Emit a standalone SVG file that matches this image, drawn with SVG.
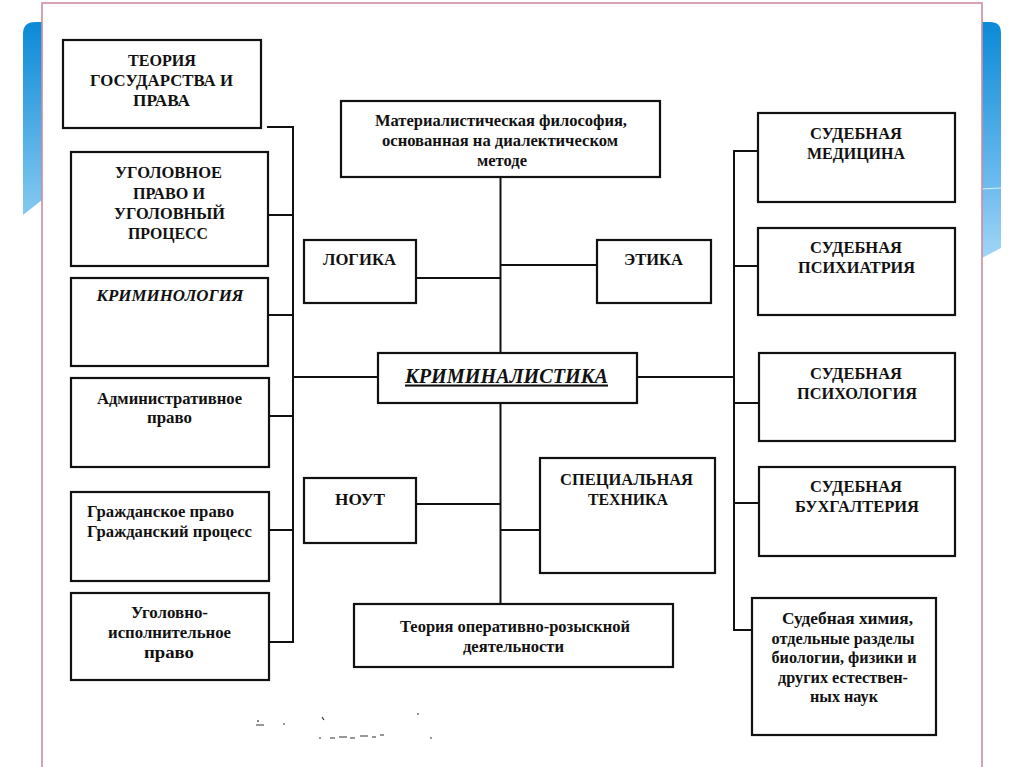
<svg xmlns="http://www.w3.org/2000/svg" width="1024" height="767" viewBox="0 0 1024 767">
<defs>
<linearGradient id="gl" x1="0" y1="0" x2="0" y2="1">
<stop offset="0" stop-color="#0b8ad6"/>
<stop offset="1" stop-color="#86c9f1"/>
</linearGradient>
<linearGradient id="gr" x1="0" y1="0" x2="0" y2="1">
<stop offset="0" stop-color="#0b8ad6"/>
<stop offset="0.7" stop-color="#6fbcef"/>
<stop offset="1" stop-color="#a2d6f5"/>
</linearGradient>
</defs>
<style>
.box{fill:#fff;stroke:#111;stroke-width:2.2}
.c{fill:none;stroke:#111;stroke-width:2}
text{font-family:"Liberation Serif","Times New Roman",serif;font-weight:bold;fill:#111;text-anchor:middle}
.cap{font-size:17px}
.low{font-size:16px}
.it{font-style:italic}
.lft{text-anchor:start}
</style>
<rect x="0" y="0" width="1024" height="767" fill="#fff"/>
<path d="M23,34 Q23,22 35,22 L42,22 L42,200 L23,215 Z" fill="url(#gl)"/>
<path d="M982,22 L990,22 Q1001,22 1001,33 L1001,248 L982,258 Z" fill="url(#gr)"/>
<line x1="982" y1="189" x2="1001" y2="188" stroke="#d8eefb" stroke-width="1"/>
<rect x="42" y="3" width="940" height="770" fill="#fff" stroke="#d08aa2" stroke-width="1.6"/>

<g id="connectors">
<path class="c" d="M267,127 H293 V642 H269"/>
<path class="c" d="M268,215 H293"/>
<path class="c" d="M268,315 H293"/>
<path class="c" d="M269,416 H293"/>
<path class="c" d="M269,530 H293"/>
<path class="c" d="M293,377 H378"/>
<path class="c" d="M500.5,177 V353"/>
<path class="c" d="M500.5,403 V604"/>
<path class="c" d="M416,278 H500.5"/>
<path class="c" d="M500.5,265 H597"/>
<path class="c" d="M416,504 H500.5"/>
<path class="c" d="M500.5,530 H540"/>
<path class="c" d="M637,377 H734"/>
<path class="c" d="M758,151 H734 V630 H752"/>
<path class="c" d="M734,266 H758"/>
<path class="c" d="M734,403 H759"/>
<path class="c" d="M734,503 H759"/>
</g>

<g id="n-teoriya-gos">
<rect class="box" x="63" y="40" width="198" height="88"/>
<text class="cap" x="162" y="65.5" textLength="68" lengthAdjust="spacingAndGlyphs">ТЕОРИЯ</text>
<text class="cap" x="161.5" y="85.5" textLength="143" lengthAdjust="spacingAndGlyphs">ГОСУДАРСТВА И</text>
<text class="cap" x="161.5" y="105.5" textLength="57" lengthAdjust="spacingAndGlyphs">ПРАВА</text>
</g>
<g id="n-ugol-pravo">
<rect class="box" x="71" y="152" width="197" height="114"/>
<text class="cap" x="168.5" y="177.5" textLength="107" lengthAdjust="spacingAndGlyphs">УГОЛОВНОЕ</text>
<text class="cap" x="169" y="198.5" textLength="72" lengthAdjust="spacingAndGlyphs">ПРАВО И</text>
<text class="cap" x="169.5" y="218.5" textLength="111" lengthAdjust="spacingAndGlyphs">УГОЛОВНЫЙ</text>
<text class="cap" x="168" y="238.5" textLength="80" lengthAdjust="spacingAndGlyphs">ПРОЦЕСС</text>
</g>
<g id="n-kriminologiya">
<rect class="box" x="71" y="278" width="197" height="88"/>
<text class="cap it" x="170" y="300.5" textLength="147" lengthAdjust="spacingAndGlyphs">КРИМИНОЛОГИЯ</text>
</g>
<g id="n-admin">
<rect class="box" x="71" y="378" width="198" height="89"/>
<text class="low" x="169.5" y="404" textLength="145" lengthAdjust="spacingAndGlyphs">Административное</text>
<text class="low" x="169.5" y="423" textLength="45" lengthAdjust="spacingAndGlyphs">право</text>
</g>
<g id="n-grazhd">
<rect class="box" x="71" y="492" width="198" height="89"/>
<text class="low lft" x="87" y="517" textLength="147" lengthAdjust="spacingAndGlyphs">Гражданское право</text>
<text class="low lft" x="87" y="537" textLength="165" lengthAdjust="spacingAndGlyphs">Гражданский процесс</text>
</g>
<g id="n-ugol-isp">
<rect class="box" x="71" y="593" width="198" height="87"/>
<text class="low" x="169.5" y="618" textLength="77" lengthAdjust="spacingAndGlyphs">Уголовно-</text>
<text class="low" x="169.5" y="638" textLength="123" lengthAdjust="spacingAndGlyphs">исполнительное</text>
<text class="low" x="169" y="658" textLength="50" lengthAdjust="spacingAndGlyphs">право</text>
</g>

<g id="n-filosofiya">
<rect class="box" x="341" y="101" width="319" height="76"/>
<text class="low" x="501" y="126" textLength="252" lengthAdjust="spacingAndGlyphs">Материалистическая философия,</text>
<text class="low" x="500" y="146" textLength="236" lengthAdjust="spacingAndGlyphs">основанная на диалектическом</text>
<text class="low" x="502" y="166" textLength="50" lengthAdjust="spacingAndGlyphs">методе</text>
</g>
<g id="n-logika">
<rect class="box" x="304" y="240" width="112" height="63"/>
<text class="cap" x="359.5" y="265" textLength="73" lengthAdjust="spacingAndGlyphs">ЛОГИКА</text>
</g>
<g id="n-etika">
<rect class="box" x="597" y="240" width="114" height="63"/>
<text class="cap" x="653.5" y="265" textLength="59" lengthAdjust="spacingAndGlyphs">ЭТИКА</text>
</g>
<g id="n-kriminalistika">
<rect class="box" x="378" y="353" width="259" height="50"/>
<text class="it" x="506.5" y="382.5" font-size="21" textLength="203" lengthAdjust="spacingAndGlyphs" text-decoration="underline">КРИМИНАЛИСТИКА</text>
</g>
<g id="n-nout">
<rect class="box" x="304" y="478" width="112" height="65"/>
<text class="cap" x="360" y="505" textLength="50" lengthAdjust="spacingAndGlyphs">НОУТ</text>
</g>
<g id="n-spec-tehnika">
<rect class="box" x="540" y="458" width="175" height="115"/>
<text class="cap" x="626.5" y="485" textLength="133" lengthAdjust="spacingAndGlyphs">СПЕЦИАЛЬНАЯ</text>
<text class="cap" x="628" y="505" textLength="80" lengthAdjust="spacingAndGlyphs">ТЕХНИКА</text>
</g>
<g id="n-teoriya-ord">
<rect class="box" x="354" y="604" width="319" height="63"/>
<text class="low" x="515" y="632" textLength="230" lengthAdjust="spacingAndGlyphs">Теория оперативно-розыскной</text>
<text class="low" x="513.5" y="652" textLength="101" lengthAdjust="spacingAndGlyphs">деятельности</text>
</g>

<g id="n-sud-med">
<rect class="box" x="758" y="113" width="197" height="89"/>
<text class="cap" x="856" y="139" textLength="92" lengthAdjust="spacingAndGlyphs">СУДЕБНАЯ</text>
<text class="cap" x="856" y="159" textLength="98" lengthAdjust="spacingAndGlyphs">МЕДИЦИНА</text>
</g>
<g id="n-sud-psihiatriya">
<rect class="box" x="758" y="228" width="197" height="87"/>
<text class="cap" x="856" y="253" textLength="92" lengthAdjust="spacingAndGlyphs">СУДЕБНАЯ</text>
<text class="cap" x="856.5" y="273" textLength="117" lengthAdjust="spacingAndGlyphs">ПСИХИАТРИЯ</text>
</g>
<g id="n-sud-psihologiya">
<rect class="box" x="759" y="353" width="196" height="88"/>
<text class="cap" x="856" y="379" textLength="92" lengthAdjust="spacingAndGlyphs">СУДЕБНАЯ</text>
<text class="cap" x="857" y="399" textLength="120" lengthAdjust="spacingAndGlyphs">ПСИХОЛОГИЯ</text>
</g>
<g id="n-sud-buh">
<rect class="box" x="759" y="467" width="196" height="89"/>
<text class="cap" x="856" y="492" textLength="92" lengthAdjust="spacingAndGlyphs">СУДЕБНАЯ</text>
<text class="cap" x="857" y="512" textLength="124" lengthAdjust="spacingAndGlyphs">БУХГАЛТЕРИЯ</text>
</g>
<g id="n-sud-himiya">
<rect class="box" x="752" y="598" width="184" height="137"/>
<text class="low" x="847.5" y="624" textLength="131" lengthAdjust="spacingAndGlyphs">Судебная химия,</text>
<text class="low" x="843" y="644" textLength="143" lengthAdjust="spacingAndGlyphs">отдельные разделы</text>
<text class="low" x="844" y="663" textLength="145" lengthAdjust="spacingAndGlyphs">биологии, физики и</text>
<text class="low" x="843" y="683" textLength="130" lengthAdjust="spacingAndGlyphs">других естествен-</text>
<text class="low" x="844" y="702" textLength="68" lengthAdjust="spacingAndGlyphs">ных наук</text>
</g>

<g id="noise" stroke="#333" stroke-width="1.2" fill="none">
<path d="M256,725 h8 M258,720 v2 M283,724 h2 M322,717 l2,3 M319,738 h2 M330,738 h5 M339,737 h8 M350,738 h5 M360,736 h8 M372,737 h4 M380,735 h4 M417,714 h2 M430,738 h2"/>
</g>
</svg>
